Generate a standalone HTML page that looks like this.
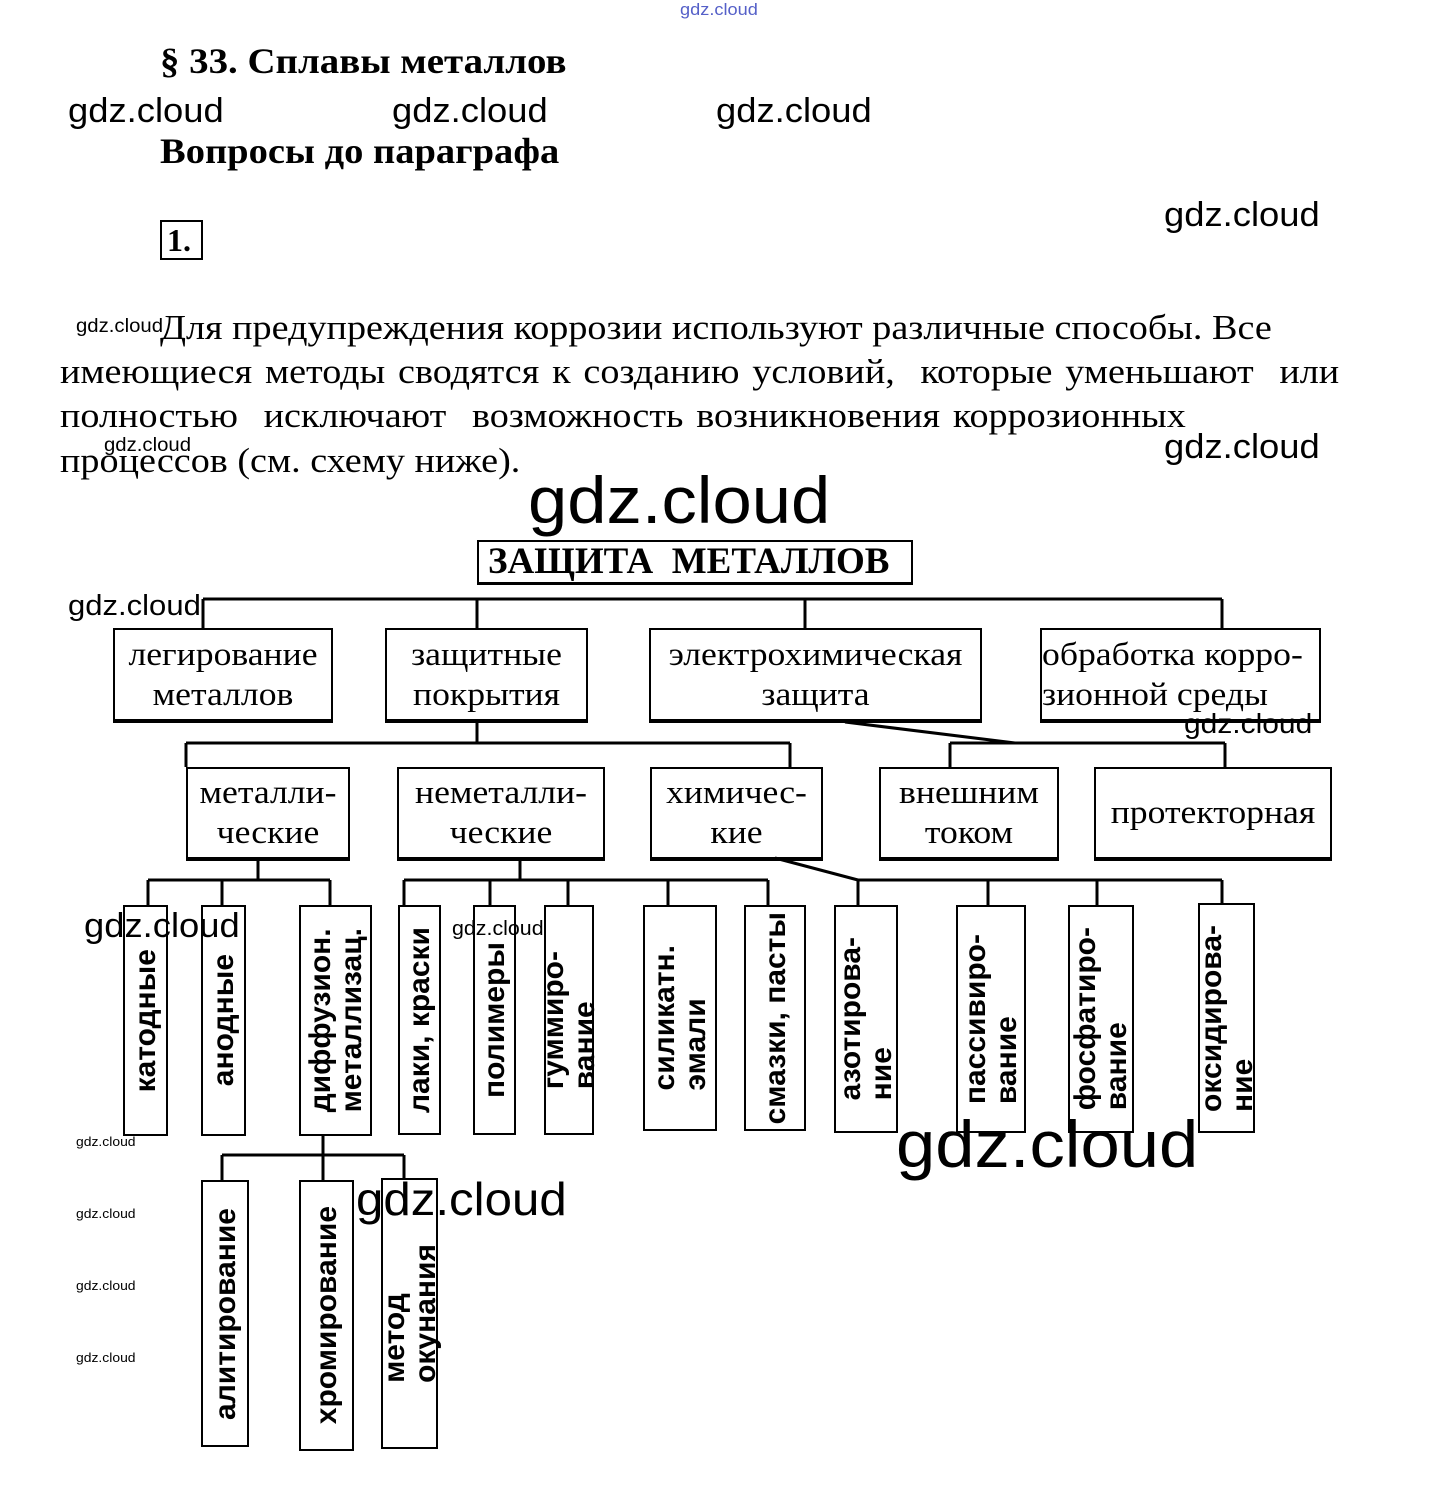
<!DOCTYPE html>
<html><head><meta charset="utf-8"><style>
body{margin:0;width:1437px;height:1490px;background:#fff;position:relative;overflow:hidden;font-family:"Liberation Serif",serif;color:#000}
.a{position:absolute;white-space:nowrap}
.w{position:absolute;font-family:"Liberation Sans",sans-serif;white-space:nowrap;color:#000;transform-origin:0 0;transform:scaleX(1.07)}
.b{position:absolute;border:2px solid #000;border-bottom-width:4px;box-sizing:border-box;font-size:33px;text-align:center;line-height:40px;display:flex;flex-direction:column;justify-content:center}
.b span{display:inline-block;transform:scaleX(1.08)}
.v{position:absolute;border:2px solid #000;box-sizing:border-box;display:flex;justify-content:center;align-items:center}
.v span{writing-mode:vertical-rl;transform:rotate(180deg);font-family:"Liberation Sans",sans-serif;font-weight:bold;font-size:30px;line-height:31px;white-space:nowrap}
.p{font-size:35px;left:60px;transform-origin:0 0;transform:scaleX(1.09)}
</style></head><body>
<div class="w" style="left:680px;top:0;font-size:17px;color:#5560c8">gdz.cloud</div>
<div class="a" style="left:160px;top:40px;font-size:36px;font-weight:bold;transform-origin:0 0;transform:scaleX(1.08)">§ 33. Сплавы металлов</div>
<div class="w" style="left:68px;top:92px;font-size:34px">gdz.cloud</div>
<div class="w" style="left:392px;top:92px;font-size:34px">gdz.cloud</div>
<div class="w" style="left:716px;top:92px;font-size:34px">gdz.cloud</div>
<div class="a" style="left:160px;top:130px;font-size:36px;font-weight:bold;transform-origin:0 0;transform:scaleX(1.07)">Вопросы до параграфа</div>
<div class="w" style="left:1164px;top:196px;font-size:34px">gdz.cloud</div>
<div class="a" style="left:160px;top:220px;width:43px;height:40px;border:2px solid #000;box-sizing:border-box;font-size:32px;font-weight:bold;line-height:36px;padding-left:5px">1.</div>
<div class="w" style="left:76px;top:316px;font-size:19px">gdz.cloud</div>
<div class="a p" style="left:160px;top:308px">Для предупреждения коррозии используют различные способы. Все</div>
<div class="a p" style="top:352px;word-spacing:3px">имеющиеся методы сводятся к созданию условий,&nbsp; которые уменьшают&nbsp; или</div>
<div class="a p" style="top:396px;word-spacing:3px">полностью&nbsp; исключают&nbsp; возможность возникновения коррозионных</div>
<div class="w" style="left:104px;top:435px;font-size:19px">gdz.cloud</div>
<div class="a p" style="top:441px">процессов (см. схему ниже).</div>
<div class="w" style="left:1164px;top:428px;font-size:34px">gdz.cloud</div>
<div class="w" style="left:528px;top:462px;font-size:66px">gdz.cloud</div>

<svg class="a" style="left:0;top:0" width="1437" height="1490" stroke="#000" stroke-width="3" fill="none">
<path d="M203 599H1222M203 599V628M477 599V628M805 599V628M1222 599V628"/>
<path d="M477 722V743M186 743H790M186 743V767M790 743V767M950 743H1225M950 743V767M1225 743V767M845 722L1015 743"/>
<path d="M258 860V880M148 880H330M148 880V905M222 880V905M330 880V905"/>
<path d="M520 860V880M404 880H768M404 880V905M490 880V905M568 880V905M668 880V905M768 880V905"/>
<path d="M775 858L858 880M858 880H1222M858 880V905M988 880V905M1097 880V905M1222 880V905"/>
<path d="M323 1135V1170M222 1155H404M222 1155V1180M323 1155V1180M404 1155V1180"/>
</svg>

<div class="b" style="left:477px;top:540px;width:436px;height:45px;font-weight:bold;font-size:37px;line-height:40px;border-bottom-width:3px;text-align:left;padding-left:9px"><span style="transform:none">ЗАЩИТА&nbsp; МЕТАЛЛОВ</span></div>
<div class="w" style="left:68px;top:590px;font-size:29px">gdz.cloud</div>
<div class="b" style="left:113px;top:628px;width:220px;height:95px"><span>легирование</span><span>металлов</span></div>
<div class="b" style="left:385px;top:628px;width:203px;height:95px"><span>защитные</span><span>покрытия</span></div>
<div class="b" style="left:649px;top:628px;width:333px;height:95px"><span>электрохимическая</span><span>защита</span></div>
<div class="b" style="left:1040px;top:628px;width:281px;height:95px;text-align:left;align-items:flex-start"><span style="transform-origin:0 0">обработка корро-</span><span style="transform-origin:0 0">зионной среды</span></div>
<div class="w" style="left:1184px;top:708px;font-size:28px">gdz.cloud</div>
<div class="b" style="left:186px;top:767px;width:164px;height:94px"><span>металли-</span><span>ческие</span></div>
<div class="b" style="left:397px;top:767px;width:208px;height:94px"><span>неметалли-</span><span>ческие</span></div>
<div class="b" style="left:650px;top:767px;width:173px;height:94px"><span>химичес-</span><span>кие</span></div>
<div class="b" style="left:879px;top:767px;width:180px;height:94px"><span>внешним</span><span>током</span></div>
<div class="b" style="left:1094px;top:767px;width:238px;height:94px"><span>протекторная</span></div>

<div class="v" style="left:123px;top:905px;width:45px;height:231px"><span>катодные</span></div>
<div class="v" style="left:201px;top:905px;width:45px;height:231px"><span>анодные</span></div>
<div class="v" style="left:299px;top:905px;width:73px;height:231px"><span>диффузион.<br>металлизац.</span></div>
<div class="v" style="left:398px;top:905px;width:43px;height:230px"><span>лаки, краски</span></div>
<div class="v" style="left:473px;top:905px;width:43px;height:230px"><span>полимеры</span></div>
<div class="v" style="left:544px;top:905px;width:50px;height:230px"><span>гуммиро-<br>вание</span></div>
<div class="v" style="left:643px;top:905px;width:74px;height:226px"><span>силикатн.<br>эмали</span></div>
<div class="v" style="left:744px;top:905px;width:62px;height:226px"><span>смазки, пасты</span></div>
<div class="v" style="left:834px;top:905px;width:64px;height:228px"><span>азотирова-<br>ние</span></div>
<div class="v" style="left:956px;top:905px;width:70px;height:228px"><span>пассивиро-<br>вание</span></div>
<div class="v" style="left:1068px;top:905px;width:66px;height:228px"><span>фосфатиро-<br>вание</span></div>
<div class="v" style="left:1198px;top:903px;width:57px;height:230px"><span>оксидирова-<br>ние</span></div>
<div class="w" style="left:84px;top:907px;font-size:34px">gdz.cloud</div>
<div class="w" style="left:452px;top:918px;font-size:20px">gdz.cloud</div>
<div class="w" style="left:896px;top:1106px;font-size:66px">gdz.cloud</div>

<div class="v" style="left:201px;top:1180px;width:48px;height:267px"><span>алитирование</span></div>
<div class="v" style="left:299px;top:1180px;width:55px;height:271px"><span>хромирование</span></div>
<div class="v" style="left:381px;top:1178px;width:57px;height:271px"><span>метод<br>окунания</span></div>
<div class="w" style="left:356px;top:1172px;font-size:46px">gdz.cloud</div>
<div class="w" style="left:76px;top:1134px;font-size:13px">gdz.cloud</div>
<div class="w" style="left:76px;top:1206px;font-size:13px">gdz.cloud</div>
<div class="w" style="left:76px;top:1278px;font-size:13px">gdz.cloud</div>
<div class="w" style="left:76px;top:1350px;font-size:13px">gdz.cloud</div>
</body></html>
